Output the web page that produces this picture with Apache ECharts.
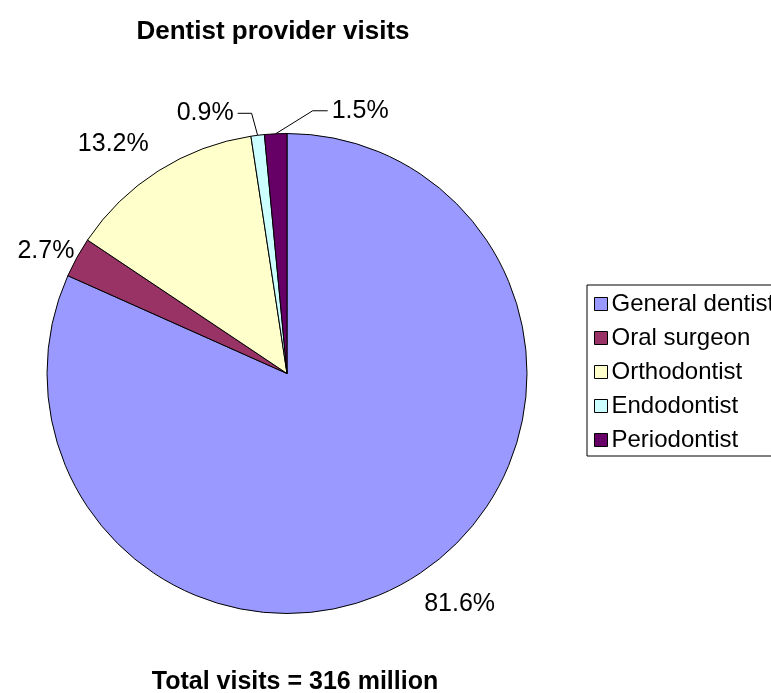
<!DOCTYPE html>
<html>
<head>
<meta charset="utf-8">
<script src="https://cdn.jsdelivr.net/npm/echarts@6/dist/echarts.min.js"></script>
<style>html,body{margin:0;padding:0;background:#fff;}#c{width:771px;height:693px;}</style>
</head>
<body>
<div id="c"></div>
<script>
// ---- data ----
const categories = ["General dentist", "Oral surgeon", "Orthodontist", "Endodontist", "Periodontist"];
const shares = [81.6, 2.7, 13.2, 0.9, 1.5];
const titleText = "Dentist provider visits";
const footerText = "Total visits = 316 million";

// ---- styles / layout ----
const colors = ["#9999FF", "#993366", "#FFFFCC", "#CCFFFF", "#660066"];
// label placement relative to the slice edge anchor provided by the library
const labelPlacement = [
  { dx: 42, dy: 29, align: "center", line: null },
  { dx: -31, dy: -6, align: "center", line: null },
  { dx: -45, dy: -27, align: "center", line: null },
  { dx: -24, dy: -22, align: "right", line: [[-6, -22], [-20, -22]] },
  { dx: 56, dy: -23, align: "left", line: [[37, -23], [52, -23]] }
];
const FONT = "'Liberation Sans', Arial, sans-serif";

const chart = echarts.init(document.getElementById("c"), null, { renderer: "canvas" });

const data = categories.map((name, i) => ({
  name: name,
  value: shares[i],
  itemStyle: { color: colors[i] },
  labelLine: { lineStyle: { opacity: labelPlacement[i].line ? 1 : 0 } }
}));

chart.setOption({
  animation: false,
  backgroundColor: "#ffffff",
  title: [
    {
      text: titleText,
      left: 268, top: 14, textAlign: "center",
      textStyle: { fontFamily: FONT, fontWeight: "bold", fontSize: 26, color: "#000" }
    },
    {
      text: footerText,
      left: 290, top: 665, textAlign: "center",
      textStyle: { fontFamily: FONT, fontWeight: "bold", fontSize: 25, color: "#000" }
    }
  ],
  legend: {
    orient: "vertical",
    left: 587, top: 285,
    padding: [7, 12, 4, 7],
    borderColor: "#000", borderWidth: 1,
    itemWidth: 13, itemHeight: 13, itemGap: 10,
    icon: "rect",
    itemStyle: { borderColor: "#000", borderWidth: 1 },
    textStyle: { fontFamily: FONT, fontSize: 24, color: "#000", lineHeight: 24, padding: [0, 0, 0, -1] },
    data: categories
  },
  series: [{
    type: "pie",
    center: [287, 373.5],
    radius: 240,
    startAngle: 90,
    clockwise: true,
    avoidLabelOverlap: false,
    data: data,
    itemStyle: { borderColor: "#000", borderWidth: 1 },
    label: {
      show: true,
      position: "outside",
      formatter: p => p.value.toFixed(1) + "%",
      fontFamily: FONT, fontSize: 25, color: "#000"
    },
    labelLine: { show: true, length: 10, length2: 10, lineStyle: { color: "#000", width: 1 } },
    labelLayout: function (params) {
      const cfg = labelPlacement[params.dataIndex];
      const pts = params.labelLinePoints;
      if (!pts) return {};
      const p0 = pts[0];
      const out = {
        x: p0[0] + cfg.dx,
        y: p0[1] + cfg.dy,
        align: cfg.align,
        verticalAlign: "middle"
      };
      if (cfg.line) {
        out.labelLinePoints = [
          [p0[0], p0[1]],
          [p0[0] + cfg.line[0][0], p0[1] + cfg.line[0][1]],
          [p0[0] + cfg.line[1][0], p0[1] + cfg.line[1][1]]
        ];
      } else {
        out.labelLinePoints = [[p0[0], p0[1]], [p0[0], p0[1]], [p0[0], p0[1]]];
      }
      return out;
    },
    emphasis: { disabled: true }
  }]
});
</script>
</body>
</html>
